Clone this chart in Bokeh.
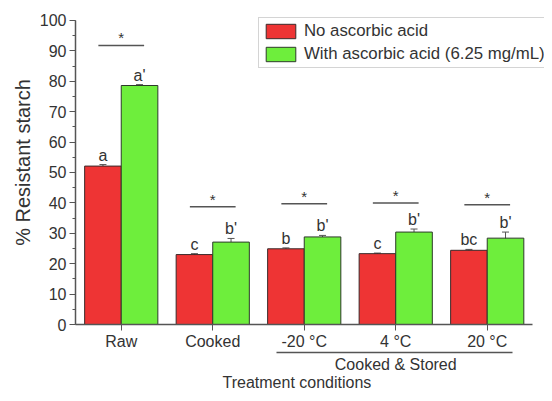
from bokeh.plotting import figure
from bokeh.models import (ColumnDataSource, Range1d, FixedTicker, Whisker, TeeHead,
                          LinearAxis, Legend, LegendItem)
from bokeh.core.properties import value
from bokeh.embed import file_html
from bokeh.resources import INLINE

# ---- data ----
categories = ["Raw", "Cooked", "-20 \u00b0C", "4 \u00b0C", "20 \u00b0C"]
no_aa = [52.1, 23.0, 24.9, 23.3, 24.4]
no_aa_err = [0.5, 0.3, 0.3, 0.2, 0.3]
with_aa = [78.6, 27.1, 28.8, 30.4, 28.4]
with_aa_err = [0.3, 1.2, 0.5, 1.0, 2.0]
letters_no = ["a", "c", "b", "c", "bc"]
letters_with = ["a'", "b'", "b'", "b'", "b'"]
sig_level = [91.8, 38.7, 39.7, 40.0, 39.4]
sig_mark = ["*", "*", "*", "*", "*"]
group_label = "Cooked & Stored"
group_members = [3, 5]  # category positions covered by the group label
x_title = "Treatment conditions"
y_title = "% Resistant starch"
series_names = ["No ascorbic acid", "With ascorbic acid (6.25 mg/mL)"]

RED = "#EE3434"
GREEN = "#6EEE3C"
TXT = "#333333"
AX = "#555555"
FONT = "Liberation Sans"

xs = list(range(1, len(categories) + 1))
dodge = 0.2
bw = 0.4

src_no = ColumnDataSource(dict(
    x=[x - dodge for x in xs], top=no_aa,
    lo=[v - e for v, e in zip(no_aa, no_aa_err)],
    hi=[v + e for v, e in zip(no_aa, no_aa_err)],
    lab=letters_no))
src_with = ColumnDataSource(dict(
    x=[x + dodge for x in xs], top=with_aa,
    lo=[v - e for v, e in zip(with_aa, with_aa_err)],
    hi=[v + e for v, e in zip(with_aa, with_aa_err)],
    lab=letters_with))
src_sig = ColumnDataSource(dict(
    x0=[x - 0.25 for x in xs], x1=[x + 0.25 for x in xs],
    x=xs, y=sig_level, t=sig_mark))

p = figure(width=544, height=393, output_backend="svg", toolbar_location=None,
           x_range=Range1d(0.5, 5.626), y_range=Range1d(0, 106.56),
           x_axis_type=None, y_axis_type=None,
           min_border_left=75, min_border_right=0, min_border_top=0,
           min_border_bottom=68)
p.outline_line_color = None
p.xgrid.visible = False
p.ygrid.visible = False

r_no = p.vbar(x="x", top="top", width=bw, source=src_no, fill_color=RED,
              line_color="#3a2a2a", line_width=1)
r_with = p.vbar(x="x", top="top", width=bw, source=src_with, fill_color=GREEN,
                line_color="#2d3a2a", line_width=1)

for s in (src_no, src_with):
    w = Whisker(base="x", lower="lo", upper="hi", source=s,
                line_color=AX, line_width=1,
                upper_head=TeeHead(size=7, line_color=AX, line_width=1),
                lower_head=TeeHead(size=7, line_color=AX, line_width=1))
    p.add_layout(w)

# letters above bars
for s in (src_no, src_with):
    p.text(x="x", y="hi", text="lab", source=s, text_align="center",
           text_baseline="bottom", y_offset=-1, text_font=value(FONT),
           text_font_size="16px", text_color=TXT)

# significance brackets
p.segment(x0="x0", y0="y", x1="x1", y1="y", source=src_sig,
          line_color=AX, line_width=1.5)
p.text(x="x", y="y", text="t", source=src_sig, text_align="center",
       text_baseline="bottom", y_offset=1, text_font=value(FONT),
       text_font_size="15px", text_color=TXT)

# ---- y axis ----
yax = LinearAxis(bounds=(0, 100),
                 ticker=FixedTicker(ticks=list(range(0, 101, 10)),
                                    minor_ticks=list(range(0, 101, 5))))
yax.major_tick_in = 0
yax.major_tick_out = 6
yax.minor_tick_in = 0
yax.minor_tick_out = 3
yax.major_label_standoff = 3
yax.axis_label = y_title
yax.axis_label_standoff = 3
yax.axis_label_text_font_size = "20px"
yax.axis_label_text_font_style = "normal"
yax.minor_tick_line_color = AX
p.add_layout(yax, "left")

# ---- x axis (categories) ----
xax = LinearAxis(bounds=(0.5, 5.5), ticker=FixedTicker(ticks=xs, minor_ticks=[]))
xax.major_label_overrides = {x: c for x, c in zip(xs, categories)}
xax.major_tick_in = 0
xax.major_tick_out = 6
xax.major_label_standoff = 2
p.add_layout(xax, "below")

for ax in (xax, yax):
    ax.axis_line_color = AX
    ax.axis_line_width = 1.5
    ax.major_tick_line_color = AX
    ax.major_label_text_font = FONT
    ax.major_label_text_font_size = "16px"
    ax.major_label_text_color = TXT
    ax.axis_label_text_font = FONT
    ax.axis_label_text_color = TXT

# ---- group axis: underline + "Cooked & Stored" ----
g0, g1 = group_members
gmid = (g0 + g1) / 2
gax = LinearAxis(bounds=(g0 - 0.30, g1 + 0.28),
                 ticker=FixedTicker(ticks=[gmid], minor_ticks=[]))
gax.major_label_overrides = {gmid: group_label}
gax.axis_line_color = AX
gax.axis_line_width = 1.5
gax.major_tick_line_color = None
gax.major_tick_in = 0
gax.major_tick_out = 0
gax.major_label_standoff = 3
gax.major_label_text_font = FONT
gax.major_label_text_font_size = "16px"
gax.major_label_text_color = TXT
p.add_layout(gax, "below")

# ---- title axis: "Treatment conditions" ----
tmid = 2.92
tax = LinearAxis(ticker=FixedTicker(ticks=[tmid], minor_ticks=[]))
tax.major_label_overrides = {tmid: x_title}
tax.axis_line_color = None
tax.major_tick_line_color = None
tax.major_tick_in = 0
tax.major_tick_out = 0
tax.major_label_standoff = -2
tax.major_label_text_font = FONT
tax.major_label_text_font_size = "16px"
tax.major_label_text_color = TXT
p.add_layout(tax, "below")

legend = Legend(items=[LegendItem(label=series_names[0], renderers=[r_no]),
                       LegendItem(label=series_names[1], renderers=[r_with])],
                location=(183, 256), orientation="vertical",
                glyph_width=37, glyph_height=18, label_height=18,
                label_standoff=5, spacing=3, padding=3, margin=0,
                label_text_font=FONT, label_text_font_size="16.8px",
                label_text_color=TXT, border_line_color="#aaaaaa",
                border_line_width=1, background_fill_alpha=1)
p.add_layout(legend)

open("out.html", "w").write(file_html(p, INLINE))
